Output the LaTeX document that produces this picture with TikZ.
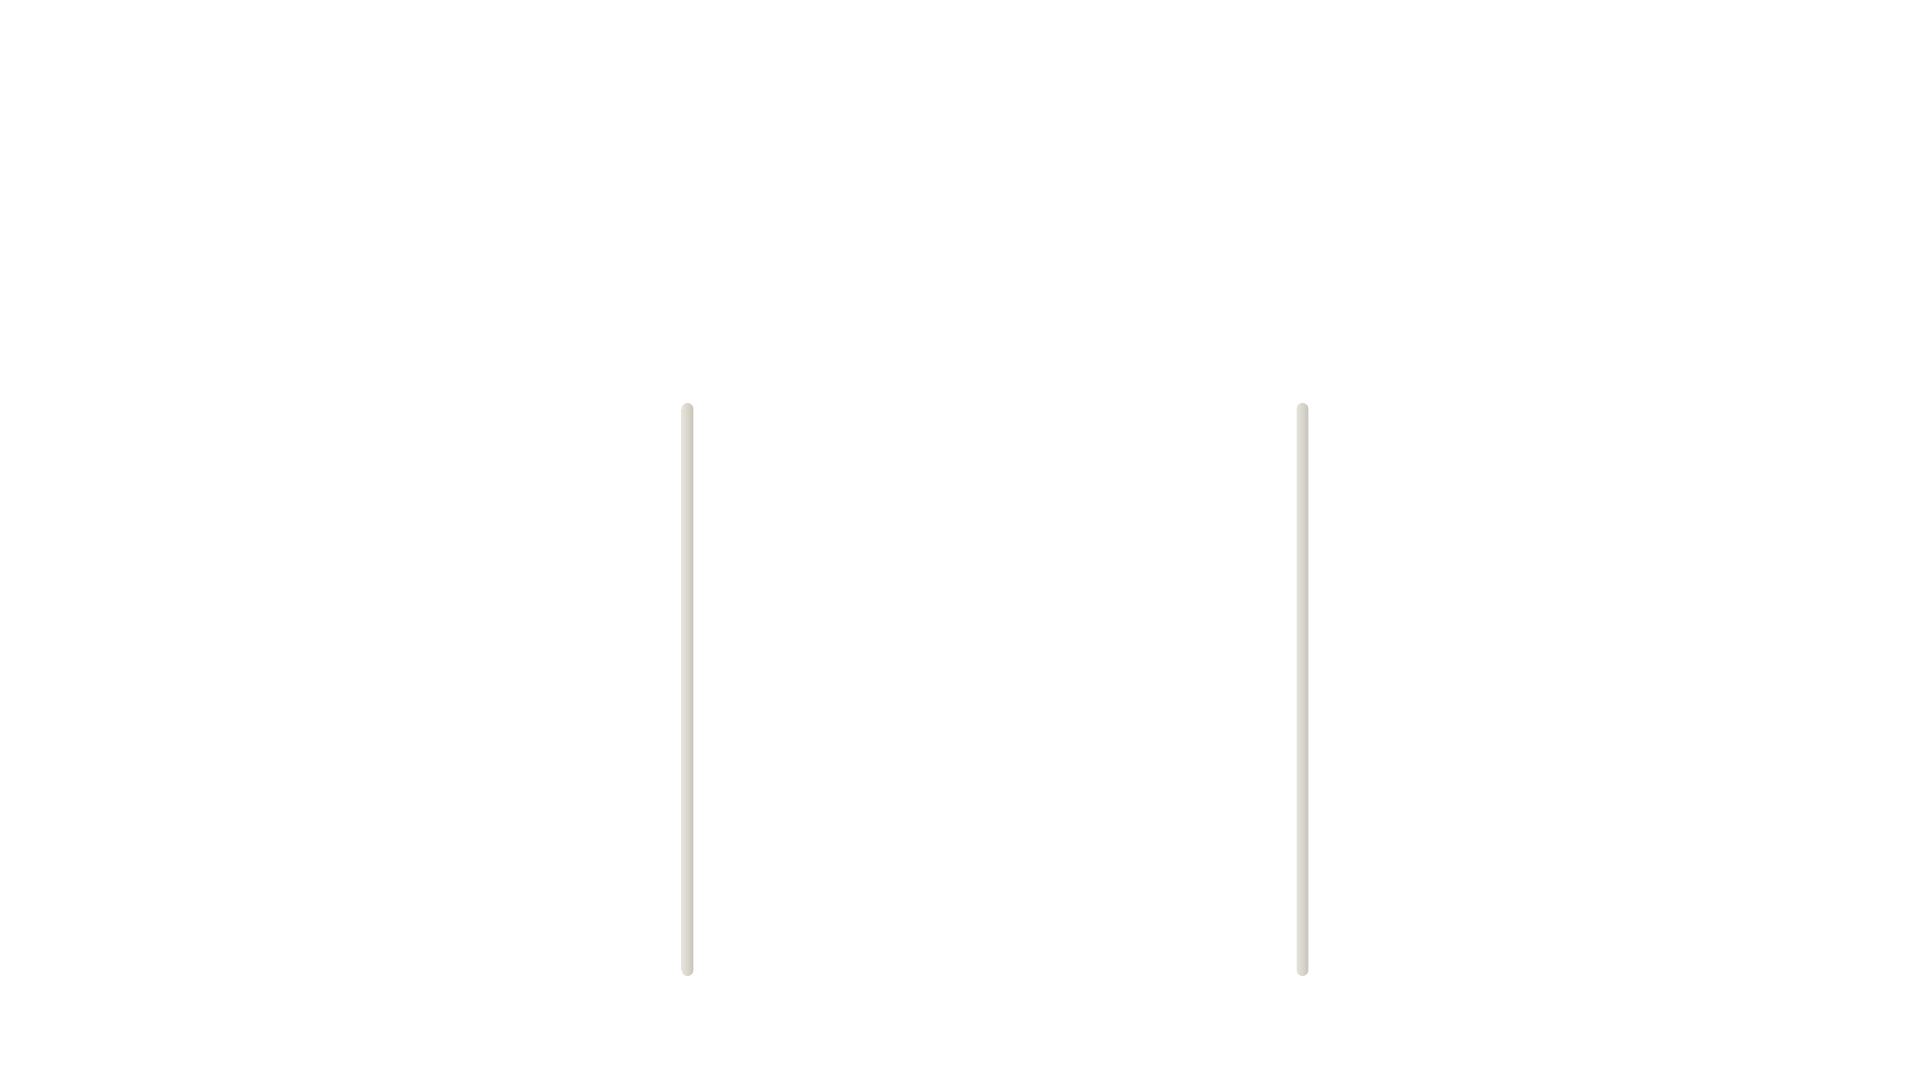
\documentclass[tikz,border=0pt]{standalone}
\usepackage{tikz}
\definecolor{rodlight}{HTML}{E4E2DA}
\definecolor{roddark}{HTML}{C6C2B6}
\begin{document}
\begin{tikzpicture}[rod/.style={draw=none,rounded corners=0.058cm,minimum width=0.116cm,minimum height=5.73cm,inner sep=0pt,left color=rodlight,right color=roddark,middle color=rodlight!60!roddark}]
		\useasboundingbox[fill=white] (0,0) rectangle (19.2,10.8);
		\node[rod] (leftrod) at (6.875,3.905) {};
		\node[rod] (rightrod) at (13.025,3.905) {};
		\end{tikzpicture}
\end{document}
